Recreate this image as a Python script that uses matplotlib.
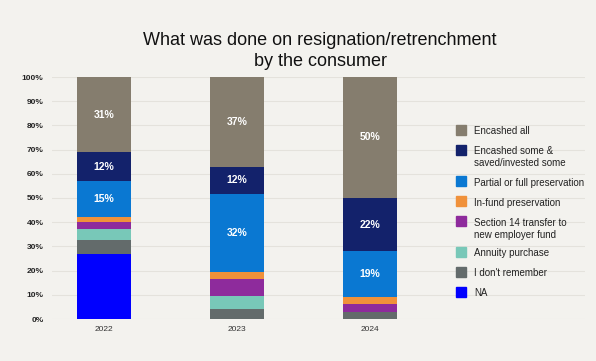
import numpy as np
import matplotlib.pyplot as plt
from matplotlib.patches import Rectangle

plt.rcParams["font.family"] = ["Liberation Sans", "DejaVu Sans"]

years = ["2022", "2023", "2024"]
categories = [
    "NA",
    "I don't remember",
    "Annuity purchase",
    "Section 14 transfer to\nnew employer fund",
    "In-fund preservation",
    "Partial or full preservation",
    "Encashed some &\nsaved/invested some",
    "Encashed all",
]
values = {
    "NA": [27, 0, 0],
    "I don't remember": [5.5, 4, 3],
    "Annuity purchase": [4.5, 5.5, 0],
    "Section 14 transfer to\nnew employer fund": [3, 7, 3],
    "In-fund preservation": [2, 3, 3],
    "Partial or full preservation": [15, 32, 19],
    "Encashed some &\nsaved/invested some": [12, 11.5, 22],
    "Encashed all": [31, 37, 50],
}
shown_labels = {
    "Partial or full preservation": [15, 32, 19],
    "Encashed some &\nsaved/invested some": [12, 12, 22],
    "Encashed all": [31, 37, 50],
}
colors = {
    "NA": "#0000ff",
    "I don't remember": "#636b6b",
    "Annuity purchase": "#78c8b8",
    "Section 14 transfer to\nnew employer fund": "#8e2b9c",
    "In-fund preservation": "#f0913a",
    "Partial or full preservation": "#0a78d2",
    "Encashed some &\nsaved/invested some": "#13226b",
    "Encashed all": "#857d6e",
}

W, H = 596, 361
bg = "#f3f2ee"
fig = plt.figure(figsize=(W / 100, H / 100), dpi=100, facecolor=bg)
ax = fig.add_axes([52 / W, 42 / H, 533 / W, 242 / H], facecolor=bg)

x = np.arange(len(years))
bottom = np.zeros(len(years))
for cat in categories:
    vals = np.array(values[cat], dtype=float)
    ax.bar(x, vals, bottom=bottom, width=0.406, color=colors[cat],
           linewidth=0, zorder=3)
    if cat in shown_labels:
        for i, v in enumerate(vals):
            ax.text(x[i], bottom[i] + v / 2, f"{shown_labels[cat][i]}%",
                    ha="center", va="center", color="white",
                    fontsize=7.5, fontweight="bold", zorder=4)
    bottom += vals

ax.set_ylim(0, 100)
ax.set_xlim(-0.39, 3.62)
ax.set_yticks(np.arange(0, 101, 10))
ax.set_yticklabels([f"{v}%" for v in range(0, 101, 10)], fontsize=6,
                   fontweight="bold", color="#222222")
ax.set_xticks(x)
ax.set_xticklabels(years, fontsize=6, color="#333333")
ax.tick_params(length=0, pad=6)
ax.tick_params(axis="x", pad=5)
ax.grid(axis="y", color="#e4e2dc", linewidth=0.8, zorder=0)
for s in ax.spines.values():
    s.set_visible(False)

# legend drawn by hand so the swatch sits on the first line of wrapped labels
y = 130
for cat in categories[::-1]:
    fig.patches.append(Rectangle((456 / W, 1 - (y + 5) / H), 10 / W, 10 / H,
                                 transform=fig.transFigure, color=colors[cat]))
    fig.text(474 / W, 1 - (y - 3.5) / H, cat, ha="left", va="top",
             fontsize=7, color="#222222", linespacing=1.25)
    y += 20 + 11 * cat.count("\n")

fig.text(0.537, 0.859, "What was done on resignation/retrenchment\nby the consumer",
         ha="center", va="center", fontsize=13, color="#111111", linespacing=1.25)

fig.savefig("out.png", dpi=100, facecolor=bg)
